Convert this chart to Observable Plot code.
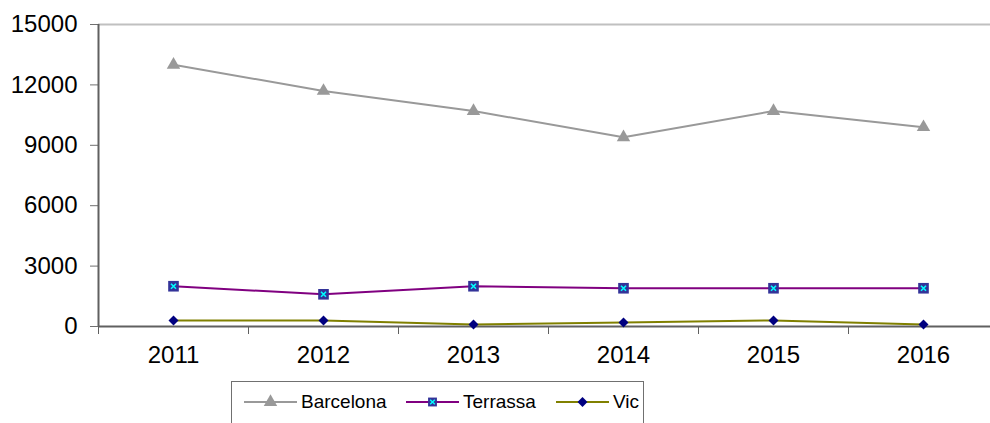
<!DOCTYPE html>
<html><head><meta charset="utf-8">
<script src="https://cdn.jsdelivr.net/npm/d3@7"></script>
<script src="https://cdn.jsdelivr.net/npm/@observablehq/plot@0.6"></script>
<style>
body{margin:0;background:#fff;font-family:Arial,"Liberation Sans",sans-serif;}
#wrap{position:relative;width:990px;height:423px;overflow:hidden;background:#fff;}
#legend{position:absolute;left:231px;top:381px;width:413px;height:60px;border:1.5px solid #707070;box-sizing:border-box;background:#fff;}
.item{position:absolute;top:8px;display:flex;align-items:center;font-size:19px;color:#000;height:24px;}
.item svg{display:block;}
.item span{margin-left:4px;}
</style></head><body><div id="wrap"></div>
<script>
const years = [2011, 2012, 2013, 2014, 2015, 2016];
const seriesNames = ["Barcelona", "Terrassa", "Vic"];
const barcelona = [13000, 11700, 10700, 9400, 10700, 9900];
const terrassa = [2000, 1600, 2000, 1900, 1900, 1900];
const vic = [300, 300, 100, 200, 300, 100];
const yTicks = [0, 3000, 6000, 9000, 12000, 15000];
const seriesColors = ["#999999", "#800080", "#808000"];

const seriesValues = [barcelona, terrassa, vic];
const rows = [];
seriesNames.forEach((name, s) => years.forEach((yr, i) => rows.push({series: name, year: yr, value: seriesValues[s][i]})));
const bounds = years.map(y => y - 0.5);
const bySeries = name => rows.filter(d => d.series === name);

const chart = Plot.plot({
  width: 990, height: 380,
  marginLeft: 98, marginRight: 0, marginTop: 24, marginBottom: 54,
  style: {fontFamily: "Arial, 'Liberation Sans', sans-serif", color: "#000", background: "#fff", overflow: "visible"},
  x: {type: "linear", domain: [years[0] - 0.5, years[years.length - 1] + 0.5], range: [98, 998], axis: null, label: null},
  y: {domain: [0, 15000], range: [326, 24], axis: null, label: null},
  color: {domain: seriesNames, range: seriesColors},
  marks: [
    Plot.ruleY([yTicks[yTicks.length - 1]], {stroke: "#c0c0c0", strokeWidth: 2}),
    Plot.axisY(yTicks, {tickSize: 8, tickPadding: 13, fontSize: 24, tickFormat: "d", stroke: "#707070", fill: "#000", label: null}),
    Plot.axisX(bounds, {tickSize: 8, tickFormat: () => "", stroke: "#606060", label: null}),
    Plot.axisX(years, {tickSize: 0, tickPadding: 19, fontSize: 24, tickFormat: "d", fill: "#000", label: null}),
    Plot.ruleY([0], {stroke: "#606060", strokeWidth: 2}),
    Plot.ruleX([bounds[0]], {y1: 0, y2: yTicks[yTicks.length - 1], stroke: "#606060", strokeWidth: 2}),
    Plot.line(rows, {x: "year", y: "value", z: "series", stroke: "series", strokeWidth: 2}),
    Plot.dot(bySeries("Barcelona"), {x: "year", y: "value", symbol: "triangle", r: 5, fill: "#999999", stroke: null}),
    Plot.dot(bySeries("Terrassa"), {x: "year", y: "value", symbol: "square", r: 6, fill: "#333399", stroke: null}),
    Plot.dot(bySeries("Terrassa"), {x: "year", y: "value", symbol: "times", r: 2.4, stroke: "#00ffff", strokeWidth: 1.6, fill: "none"}),
    Plot.dot(bySeries("Vic"), {x: "year", y: "value", symbol: "diamond2", r: 4.5, fill: "#000080", stroke: null})
  ]
});

const wrap = document.getElementById("wrap");
wrap.appendChild(chart);

// legend
const legend = document.createElement("div");
legend.id = "legend";
wrap.appendChild(legend);
const legendLeft = [12, 174, 324];
const symbolDefs = [
  {sym: d3.symbolTriangle, size: Math.PI * 25, fill: "#999999"},
  {sym: d3.symbolSquare, size: Math.PI * 25, fill: "#333399", extra: true},
  {sym: d3.symbolDiamond2, size: Math.PI * 20, fill: "#000080"}
];
seriesNames.forEach((name, i) => {
  const item = document.createElement("div");
  item.className = "item";
  item.style.left = legendLeft[i] + "px";
  const svg = d3.create("svg").attr("width", 53).attr("height", 16);
  svg.append("line").attr("x1", 0).attr("x2", 53).attr("y1", 8).attr("y2", 8)
    .attr("stroke", seriesColors[i]).attr("stroke-width", 2);
  const def = symbolDefs[i];
  svg.append("path").attr("transform", "translate(26.5,8)")
    .attr("d", d3.symbol(def.sym, def.size)()).attr("fill", def.fill);
  if (def.extra) {
    svg.append("path").attr("transform", "translate(26.5,8)")
      .attr("d", d3.symbol(d3.symbolTimes, Math.PI * 5)()).attr("fill", "none")
      .attr("stroke", "#00ffff").attr("stroke-width", 1.4);
  }
  item.appendChild(svg.node());
  const span = document.createElement("span");
  span.textContent = name;
  item.appendChild(span);
  legend.appendChild(item);
});
</script>
</body></html>
